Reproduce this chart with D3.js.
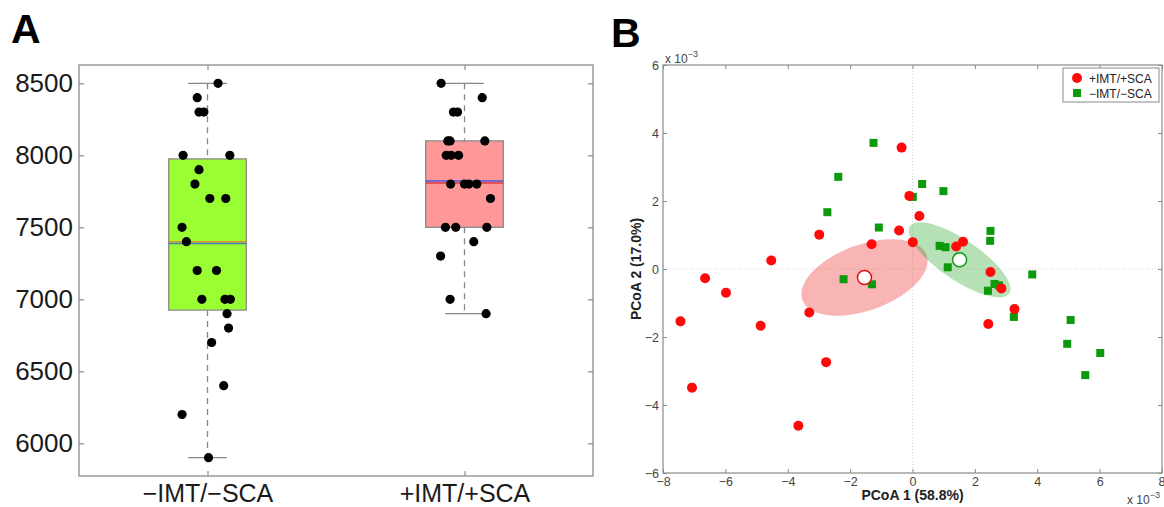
<!DOCTYPE html>
<html><head><meta charset="utf-8">
<script src="https://cdn.jsdelivr.net/npm/d3@7"></script>
<style>
body{margin:0;background:#fff;}
svg{display:block;font-family:"Liberation Sans",Arial,Helvetica,sans-serif;}
</style></head>
<body><svg id="c" width="1164" height="507"></svg>
<script>
// ---------- Panel A data ----------
const groupsA = ["\u2212IMT/\u2212SCA", "+IMT/+SCA"];
const yTicksA = [6000, 6500, 7000, 7500, 8000, 8500];
const q1A = [6925, 7500];
const q3A = [7975, 8100];
const medianA = [7400, 7808];
const meanA = [7388, 7822];
const whiskLowA = [5900, 6900];
const whiskHighA = [8500, 8500];
// individual observations (value, jittered x in group units)
const valsNeg = [8500,8400,8300,8300,8000,8000,7900,7800,7700,7700,7500,7400,7200,7200,7000,7000,7000,6900,6800,6700,6400,6200,5900];
const jitNeg  = [0.041,-0.040,-0.033,-0.014,-0.095,0.087,-0.033,-0.049,0.009,0.071,-0.099,-0.082,-0.040,0.035,-0.022,0.068,0.089,0.076,0.082,0.016,0.063,-0.099,0.004];
const valsPos = [8500,8400,8300,8300,8100,8100,8100,8000,8000,8000,7800,7800,7800,7800,7700,7500,7500,7500,7400,7300,7000,6900];
const jitPos  = [-0.091,0.069,-0.043,-0.027,-0.065,-0.056,0.079,-0.071,-0.052,-0.023,-0.054,0.0,0.017,0.048,0.101,-0.074,-0.034,0.087,0.036,-0.093,-0.056,0.084];

// ---------- Panel B data (x 10^-3) ----------
const seriesB = ["+IMT/+SCA", "\u2212IMT/\u2212SCA"];
const ticksBx = [-8,-6,-4,-2,0,2,4,6,8];
const ticksBy = [-6,-4,-2,0,2,4,6];
const redX = [-0.35,-0.10,0.22,-0.43,-2.99,-1.31,0.01,1.62,1.40,-4.53,-6.65,-5.98,-7.44,-4.87,-3.31,-2.77,-7.07,-3.66,2.50,2.85,3.27,2.43];
const redY = [3.57,2.15,1.56,1.13,1.01,0.73,0.79,0.80,0.66,0.25,-0.27,-0.70,-1.54,-1.67,-1.28,-2.74,-3.49,-4.61,-0.09,-0.57,-1.18,-1.62];
const greenX = [-1.25,-2.38,-2.73,-1.08,-2.21,-1.30,0.31,0.99,0.01,2.50,2.49,0.87,1.06,1.13,3.84,2.63,2.77,2.42,3.25,5.07,4.96,6.02,5.54];
const greenY = [3.71,2.71,1.67,1.22,-0.30,-0.45,2.50,2.29,2.12,1.12,0.83,0.68,0.64,0.05,-0.16,-0.44,-0.48,-0.64,-1.41,-1.50,-2.20,-2.47,-3.12];
const centroidX = [-1.54, 1.51];
const centroidY = [-0.25, 0.27];
// ellipse semi-axis vectors in data units: [ux, uy, vx, vy]
const ellRed = [1.99, 0.66, 0.36, -0.91];
const ellGreen = [1.59, -0.99, -0.36, -0.49];

const svg = d3.select("#c");
const grayFrame = "#8a8a8a";

// ================= Panel A =================
const xA = d3.scaleLinear().domain([0.5, 2.5]).range([79, 593]);
const yA = d3.scaleLinear().domain([5773, 8627]).range([476, 65]);
const gA = svg.append("g");
gA.append("rect").attr("x",79).attr("y",65).attr("width",514).attr("height",411)
  .attr("fill","#fff").attr("stroke",grayFrame).attr("stroke-width",1.3);

const boxFill = ["#99ff33", "#ff9999"];
const medCol = ["#e8892a", "#e23b3b"];
const meanCol = ["#3f7fc0", "#4a5ad8"];
const bw = 0.151; // half box width in group units
const cw = 0.075; // half cap width
[0,1].forEach(i => {
  const cx = i + 1;
  gA.append("line").attr("x1",xA(cx)).attr("x2",xA(cx)).attr("y1",yA(whiskHighA[i])).attr("y2",yA(q3A[i]))
    .attr("stroke","#888").attr("stroke-width",1.3).attr("stroke-dasharray","6,5");
  gA.append("line").attr("x1",xA(cx)).attr("x2",xA(cx)).attr("y1",yA(q1A[i])).attr("y2",yA(whiskLowA[i]))
    .attr("stroke","#888").attr("stroke-width",1.3).attr("stroke-dasharray","6,5");
  [whiskHighA[i], whiskLowA[i]].forEach(v => {
    gA.append("line").attr("x1",xA(cx-cw)).attr("x2",xA(cx+cw)).attr("y1",yA(v)).attr("y2",yA(v))
      .attr("stroke","#888").attr("stroke-width",1.3);
  });
  gA.append("rect").attr("x",xA(cx-bw)).attr("y",yA(q3A[i])).attr("width",xA(cx+bw)-xA(cx-bw))
    .attr("height",yA(q1A[i])-yA(q3A[i])).attr("fill",boxFill[i]).attr("stroke","#8a8a8a").attr("stroke-width",1.3);
  gA.append("line").attr("x1",xA(cx-bw)).attr("x2",xA(cx+bw)).attr("y1",yA(medianA[i])).attr("y2",yA(medianA[i]))
    .attr("stroke",medCol[i]).attr("stroke-width",1.6);
  gA.append("line").attr("x1",xA(cx-bw)).attr("x2",xA(cx+bw)).attr("y1",yA(meanA[i])).attr("y2",yA(meanA[i]))
    .attr("stroke",meanCol[i]).attr("stroke-width",1.6);
});
const dotsA = valsNeg.map((v,k)=>({x:1+jitNeg[k], y:v})).concat(valsPos.map((v,k)=>({x:2+jitPos[k], y:v})));
gA.selectAll("circle.d").data(dotsA).join("circle").attr("class","d")
  .attr("cx",d=>xA(d.x)).attr("cy",d=>yA(d.y)).attr("r",4.6).attr("fill","#000");

const axLA = d3.axisLeft(yA).tickValues(yTicksA).tickSizeInner(-5).tickSizeOuter(0).tickPadding(6).tickFormat(d3.format("d"));
const gyA = gA.append("g").attr("transform","translate(79,0)").call(axLA);
const axRA = d3.axisRight(yA).tickValues(yTicksA).tickSizeInner(-5).tickSizeOuter(0).tickFormat("");
const gyA2 = gA.append("g").attr("transform","translate(593,0)").call(axRA);
const axBA = d3.axisBottom(xA).tickValues([1,2]).tickSizeInner(-5).tickSizeOuter(0).tickPadding(8).tickFormat((d,i)=>groupsA[i]);
const gxA = gA.append("g").attr("transform","translate(0,476)").call(axBA);
const axTA = d3.axisTop(xA).tickValues([1,2]).tickSizeInner(-5).tickSizeOuter(0).tickFormat("");
const gxA2 = gA.append("g").attr("transform","translate(0,65)").call(axTA);
[gyA,gyA2,gxA,gxA2].forEach(g=>{ g.select(".domain").remove(); g.selectAll(".tick line").attr("stroke",grayFrame).attr("stroke-width",1.2); });
gyA.selectAll("text").attr("font-size",26).attr("fill","#1a1a1a").attr("font-family","Liberation Sans, Arial, sans-serif");
gxA.selectAll("text").attr("font-size",25).attr("fill","#1a1a1a").attr("font-family","Liberation Sans, Arial, sans-serif").attr("dy","0.7em");

svg.append("text").attr("x",11).attr("y",43).attr("font-size",41).attr("font-weight","bold").attr("fill","#000").text("A");

// ================= Panel B =================
const xB = d3.scaleLinear().domain([-8, 8]).range([663, 1162]);
const yB = d3.scaleLinear().domain([-6, 6]).range([473, 65]);
const gB = svg.append("g");
gB.append("rect").attr("x",663).attr("y",65).attr("width",499).attr("height",408).attr("fill","#fff");
gB.append("line").attr("x1",xB(0)).attr("x2",xB(0)).attr("y1",yB(6)).attr("y2",yB(-6)).attr("stroke","#d4d4d4").attr("stroke-width",1).attr("stroke-dasharray","1,2");
gB.append("line").attr("x1",xB(-8)).attr("x2",xB(8)).attr("y1",yB(0)).attr("y2",yB(0)).attr("stroke","#d4d4d4").attr("stroke-width",1).attr("stroke-dasharray","1,2");

function ellipsePath(cx, cy, e){
  const pts = d3.range(0, 361, 4).map(a => {
    const t = a*Math.PI/180;
    return [xB(cx + Math.cos(t)*e[0] + Math.sin(t)*e[2]), yB(cy + Math.cos(t)*e[1] + Math.sin(t)*e[3])];
  });
  return d3.line()(pts) + "Z";
}
gB.append("path").attr("d",ellipsePath(centroidX[0],centroidY[0],ellRed)).attr("fill","#ee3030").attr("fill-opacity",0.36).attr("stroke","none");
gB.append("path").attr("d",ellipsePath(centroidX[1],centroidY[1],ellGreen)).attr("fill","#20a020").attr("fill-opacity",0.33).attr("stroke","none");

const redCol = "#ff0a0a", greenCol = "#0c9a0c";
const redPts = redX.map((x,i)=>({x, y:redY[i]}));
const greenPts = greenX.map((x,i)=>({x, y:greenY[i]}));
gB.selectAll("rect.g").data(greenPts).join("rect").attr("class","g")
  .attr("x",d=>xB(d.x)-4).attr("y",d=>yB(d.y)-4).attr("width",8).attr("height",8).attr("fill",greenCol);
gB.selectAll("circle.r").data(redPts).join("circle").attr("class","r")
  .attr("cx",d=>xB(d.x)).attr("cy",d=>yB(d.y)).attr("r",5).attr("fill",redCol);
[0,1].forEach(i=>{
  gB.append("circle").attr("cx",xB(centroidX[i])).attr("cy",yB(centroidY[i])).attr("r",7)
    .attr("fill","#fff").attr("stroke", i===0?"#e01010":"#149a14").attr("stroke-width",1.5);
});

gB.append("rect").attr("x",663).attr("y",65).attr("width",499).attr("height",408).attr("fill","none").attr("stroke",grayFrame).attr("stroke-width",1.2);

const fmtB = d => d3.format("d")(d);
const axBB = d3.axisBottom(xB).tickValues(ticksBx).tickSizeInner(-4).tickSizeOuter(0).tickPadding(4).tickFormat(fmtB);
const gxB = gB.append("g").attr("transform","translate(0,473)").call(axBB);
const axTB = d3.axisTop(xB).tickValues(ticksBx).tickSizeInner(-4).tickSizeOuter(0).tickFormat("");
const gxB2 = gB.append("g").attr("transform","translate(0,65)").call(axTB);
const axLB = d3.axisLeft(yB).tickValues(ticksBy).tickSizeInner(-4).tickSizeOuter(0).tickPadding(4).tickFormat(fmtB);
const gyB = gB.append("g").attr("transform","translate(663,0)").call(axLB);
const axRB = d3.axisRight(yB).tickValues(ticksBy).tickSizeInner(-4).tickSizeOuter(0).tickFormat("");
const gyB2 = gB.append("g").attr("transform","translate(1162,0)").call(axRB);
[gxB,gxB2,gyB,gyB2].forEach(g=>{ g.select(".domain").remove(); g.selectAll(".tick line").attr("stroke",grayFrame).attr("stroke-width",1); });
[gxB,gyB].forEach(g=> g.selectAll("text").attr("font-size",12.5).attr("fill","#444").attr("font-family","Liberation Sans, Arial, sans-serif"));
// keep the last x label inside the window
gxB.selectAll(".tick text").filter(d=>d===8).attr("text-anchor","end").attr("dx",3);

function mult(x, y){
  const t = gB.append("text").attr("x",x).attr("y",y).attr("font-size",12).attr("fill","#444");
  t.append("tspan").text("x 10");
  t.append("tspan").attr("dy",-6).attr("font-size",9).text("\u22123");
}
mult(665, 63);
mult(1127, 504);

gB.append("text").attr("x",xB(0)).attr("y",500).attr("text-anchor","middle").attr("font-size",14).attr("font-weight","bold").attr("fill","#222").text("PCoA 1 (58.8%)");
gB.append("text").attr("transform",`translate(641,${yB(0)}) rotate(-90)`).attr("text-anchor","middle").attr("font-size",14).attr("font-weight","bold").attr("fill","#222").text("PCoA 2 (17.0%)");

const lg = gB.append("g");
lg.append("rect").attr("x",1063).attr("y",68).attr("width",96).attr("height",34).attr("fill","#fff").attr("stroke",grayFrame).attr("stroke-width",1);
lg.append("circle").attr("cx",1077).attr("cy",78).attr("r",5).attr("fill",redCol);
lg.append("rect").attr("x",1073).attr("y",89).attr("width",8).attr("height",8).attr("fill",greenCol);
seriesB.forEach((s,i)=>{
  lg.append("text").attr("x",1089).attr("y",82.5+i*15).attr("font-size",12).attr("fill","#222").text(s);
});

svg.append("text").attr("x",611).attr("y",47).attr("font-size",41).attr("font-weight","bold").attr("fill","#000").text("B");
</script></body></html>
